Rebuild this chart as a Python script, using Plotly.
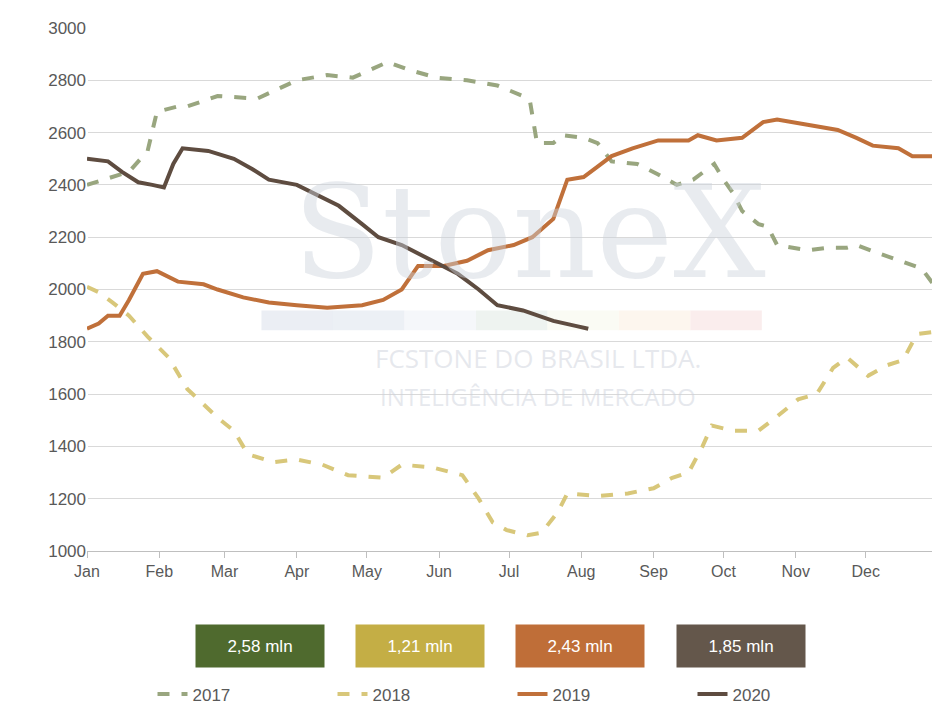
import plotly.graph_objects as go

# day of year / price
d2017 = [0, 18, 26, 30, 39, 43, 56, 73, 90, 103, 114, 129, 138, 150, 163, 176, 187, 190, 193, 200, 204, 213, 219, 225, 236, 245, 253, 260, 266, 269, 273, 277, 281, 288, 292, 296, 309, 318, 326, 330, 339, 348, 354, 358, 363, 365]
v2017 = [2400, 2450, 2530, 2680, 2700, 2700, 2740, 2730, 2800, 2820, 2810, 2870, 2840, 2810, 2800, 2780, 2740, 2720, 2560, 2560, 2590, 2580, 2560, 2490, 2480, 2440, 2400, 2420, 2460, 2480, 2420, 2370, 2300, 2250, 2240, 2170, 2150, 2160, 2160, 2170, 2140, 2110, 2090, 2080, 2020, 2020]

d2018 = [0, 5, 11, 18, 26, 35, 43, 50, 56, 63, 69, 80, 90, 101, 112, 127, 135, 148, 161, 168, 174, 180, 189, 195, 202, 206, 219, 232, 243, 251, 258, 264, 268, 277, 288, 294, 305, 313, 320, 326, 335, 343, 350, 356, 365]
v2018 = [2010, 1990, 1950, 1900, 1820, 1740, 1620, 1560, 1510, 1460, 1370, 1340, 1350, 1330, 1290, 1280, 1330, 1320, 1290, 1200, 1110, 1080, 1060, 1070, 1150, 1220, 1210, 1220, 1240, 1280, 1300, 1400, 1480, 1460, 1460, 1500, 1580, 1600, 1700, 1740, 1670, 1710, 1730, 1830, 1840]

d2019 = [0, 5, 9, 14, 18, 24, 30, 39, 50, 56, 67, 78, 90, 103, 118, 127, 135, 142, 153, 163, 172, 183, 191, 200, 206, 213, 219, 225, 234, 245, 258, 262, 270, 281, 290, 296, 309, 322, 330, 337, 348, 354, 365]
v2019 = [1850, 1870, 1900, 1900, 1960, 2060, 2070, 2030, 2020, 2000, 1970, 1950, 1940, 1930, 1940, 1960, 2000, 2090, 2090, 2110, 2150, 2170, 2200, 2270, 2420, 2430, 2470, 2510, 2540, 2570, 2570, 2590, 2570, 2580, 2640, 2650, 2630, 2610, 2580, 2550, 2540, 2510, 2510]

d2020 = [0, 9, 15, 22, 28, 33, 37, 41, 52, 63, 71, 78, 90, 99, 108, 118, 125, 135, 146, 159, 168, 176, 187, 200, 210, 215]
v2020 = [2500, 2490, 2450, 2410, 2400, 2390, 2480, 2540, 2530, 2500, 2460, 2420, 2400, 2360, 2320, 2250, 2200, 2170, 2120, 2060, 2000, 1940, 1920, 1880, 1860, 1850]

months = ["Jan", "Feb", "Mar", "Apr", "May", "Jun", "Jul", "Aug", "Sep", "Oct", "Nov", "Dec"]
month_start = [0, 31, 59, 90, 120, 151, 181, 212, 243, 273, 304, 334]

boxes = ["2,58 mln", "1,21 mln", "2,43 mln", "1,85 mln"]
box_colors = ["#4F6A2E", "#C4AE45", "#BF6E38", "#64574B"]

fig = go.Figure()
fig.add_trace(go.Scatter(x=d2017, y=v2017, name="2017", mode="lines",
                         line=dict(color="#99A67F", width=4, dash="dash")))
fig.add_trace(go.Scatter(x=d2018, y=v2018, name="2018", mode="lines",
                         line=dict(color="#D8C77A", width=4, dash="dash")))
fig.add_trace(go.Scatter(x=d2019, y=v2019, name="2019", mode="lines",
                         line=dict(color="#C0703A", width=4)))
fig.add_trace(go.Scatter(x=d2020, y=v2020, name="2020", mode="lines",
                         line=dict(color="#5E4C40", width=4)))

# watermark
fig.add_annotation(text="StoneX", x=0.52, y=0.76, xref="paper", yref="paper", showarrow=False,
                   font=dict(family="DejaVu Serif", size=130, color="rgba(205,210,220,0.45)"))
fig.add_annotation(text="FCSTONE DO BRASIL LTDA.", x=0.53, y=0.33, xref="paper", yref="paper", showarrow=False,
                   font=dict(family="Open Sans", size=26, color="rgba(205,210,220,0.5)"))
fig.add_annotation(text="INTELIGÊNCIA DE MERCADO", x=0.53, y=0.26, xref="paper", yref="paper", showarrow=False,
                   font=dict(family="Open Sans", size=24, color="rgba(205,210,220,0.5)"))
strip = ["#DDE3EC", "#E0E6EF", "#EEF2F6", "#E2EBE6", "#F6F8EC", "#FBF0E3", "#F6E1E1"]
for i, c in enumerate(strip):
    fig.add_shape(type="rect", xref="paper", yref="paper", x0=0.205 + i * 0.084, x1=0.289 + i * 0.084,
                  y0=0.422, y1=0.46, fillcolor=c, line_width=0, opacity=0.6, layer="below")

for i, (t, c) in enumerate(zip(boxes, box_colors)):
    fig.add_annotation(text=t, x=[0.203, 0.391, 0.579, 0.769][i], y=-0.182, xref="paper", yref="paper",
                       xanchor="center", yanchor="middle",
                       showarrow=False, width=126, height=40, bgcolor=c,
                       font=dict(family="Liberation Sans", size=17, color="white"))

fig.update_layout(
    width=940, height=717, plot_bgcolor="white", paper_bgcolor="white",
    margin=dict(l=79, r=10, t=20, b=174, autoexpand=False),
    font=dict(family="Liberation Sans", size=16, color="#595959"),
    showlegend=True,
    legend=dict(orientation="h", x=0.5, xanchor="center", y=-0.24, yanchor="top",
                entrywidth=135, font=dict(size=17)),
    xaxis=dict(range=[0, 365], tickvals=month_start, ticktext=months, showgrid=False,
               showline=True, linecolor="#BFBFBF", ticks="outside", tickcolor="#BFBFBF", ticklen=6),
    yaxis=dict(range=[1000, 3000], dtick=200, gridcolor="#D9D9D9", zeroline=False,
               tickfont=dict(size=17)),
)

fig.write_html("out.html")
